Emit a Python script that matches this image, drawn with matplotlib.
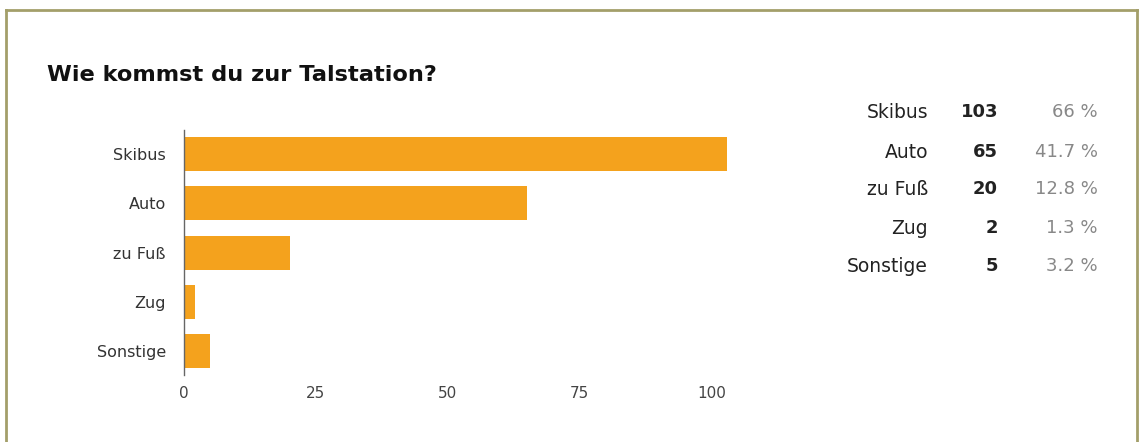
import matplotlib.pyplot as plt
from matplotlib.lines import Line2D

categories = ["Skibus", "Auto", "zu Fuß", "Zug", "Sonstige"]
counts = [103, 65, 20, 2, 5]
percents = ["66 %", "41.7 %", "12.8 %", "1.3 %", "3.2 %"]
xticks = [0, 25, 50, 75, 100]

W, H = 1141, 442
fig = plt.figure(figsize=(W / 100, H / 100), dpi=100, facecolor="white")

# olive frame (left, top, right; bottom is cut off)
frame_col = "#a39f6a"
fig.add_artist(Line2D([6 / W, 6 / W], [0, 1 - 10 / H], color=frame_col, lw=2))
fig.add_artist(Line2D([6 / W, 1137 / W], [1 - 10 / H, 1 - 10 / H], color=frame_col, lw=2))
fig.add_artist(Line2D([1137 / W, 1137 / W], [0, 1 - 10 / H], color=frame_col, lw=2))

fig.text(47 / W, 1 - 75 / H, "Wie kommst du zur Talstation?", fontsize=16.2,
         fontweight="bold", color="#111111", va="center", ha="left")

ax = fig.add_axes([184 / W, 1 - 375 / H, 554 / W, 245 / H])
ypos = range(len(categories))
ax.barh(ypos, counts, height=0.69, color="#f4a21d")
ax.set_ylim(4.48, -0.49)
ax.set_xlim(0, 105)
ax.set_yticks(list(ypos))
ax.set_yticklabels(categories, fontsize=11.5, color="#333333")
ax.set_xticks(xticks)
ax.set_xticklabels([str(t) for t in xticks], fontsize=11, color="#444444")
ax.tick_params(length=0, pad=8)
ax.tick_params(axis="y", pad=13)
for s in ["top", "right", "bottom"]:
    ax.spines[s].set_visible(False)
ax.spines["left"].set_color("#666666")
ax.spines["left"].set_linewidth(1)
ax.set_facecolor("none")

# summary table on the right
row_y = [112, 152, 189, 228, 266]
for cat, n, p, y in zip(categories, counts, percents, row_y):
    fy = 1 - y / H
    fig.text(928 / W, fy, cat, ha="right", va="center", fontsize=13.5, color="#222222")
    fig.text(998 / W, fy, str(n), ha="right", va="center", fontsize=13,
             fontweight="bold", color="#222222")
    fig.text(1098 / W, fy, p, ha="right", va="center", fontsize=13, color="#888888")

fig.savefig("out.png", dpi=100, facecolor="white")
